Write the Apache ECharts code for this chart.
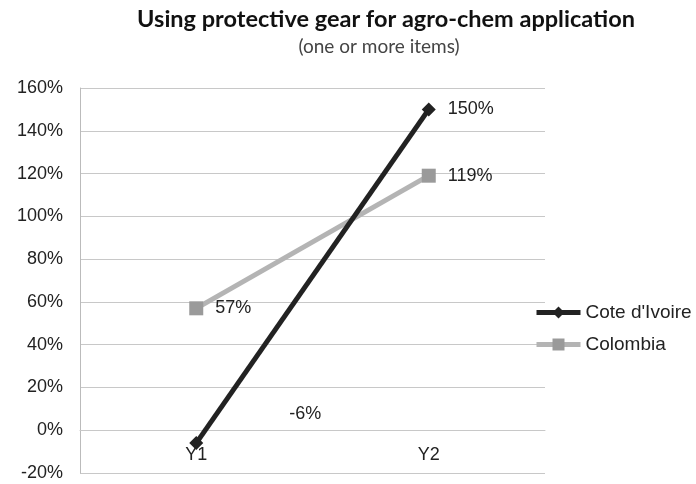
<!DOCTYPE html>
<html>
<head>
<meta charset="utf-8">
<script src="https://cdn.jsdelivr.net/npm/echarts@6/dist/echarts.min.js"></script>
<style>
  html, body { margin: 0; padding: 0; background: #fff; }
  #chart { width: 696px; height: 484px; }
</style>
</head>
<body>
<div id="chart"></div>
<script>
// Share of farmers using protective gear (one or more items), by survey year
var categories = ['Y1', 'Y2'];
var coteDIvoire = [-6, 150];
var colombia = [57, 119];
var yTicks = { min: -20, max: 160, step: 20 };

var chart = echarts.init(document.getElementById('chart'));
var FONT = 'Liberation Sans, Arial, sans-serif';

function pctLabel(extra) {
  return Object.assign({
    show: true,
    position: 'right',
    distance: 12,
    formatter: '{c}%',
    fontFamily: FONT,
    fontSize: 18,
    color: '#222'
  }, extra || {});
}

chart.setOption({
  animation: false,
  backgroundColor: '#fff',
  title: [
    {
      text: 'Using protective gear for agro-chem application',
      left: 381,
      textAlign: 'center',
      top: 2,
      textStyle: { fontFamily: 'Lato, sans-serif', fontWeight: 'bold', fontSize: 23.5, color: '#111' }
    },
    {
      text: '(one or more items)',
      left: 374,
      textAlign: 'center',
      top: 32,
      textStyle: { fontFamily: 'Lato, sans-serif', fontWeight: 'normal', fontSize: 19, color: '#444' }
    }
  ],
  grid: { left: 80, right: 151, top: 88, bottom: 11, containLabel: false, outerBoundsMode: 'none' },
  legend: {
    orient: 'vertical',
    left: 529,
    top: 298,
    itemWidth: 44,
    itemHeight: 15,
    itemGap: 13,
    lineStyle: { width: 5 },
    textStyle: { fontFamily: FONT, fontSize: 19, color: '#222' },
    data: ["Cote d'Ivoire", 'Colombia']
  },
  xAxis: {
    type: 'category',
    data: categories,
    boundaryGap: true,
    axisLine: { lineStyle: { color: '#c8c8c8', width: 1 } },
    axisTick: { show: false },
    // category names sit just under the 0% line
    axisLabel: { margin: -27, fontFamily: FONT, fontSize: 18, color: '#222' }
  },
  yAxis: {
    type: 'value',
    min: yTicks.min,
    max: yTicks.max,
    interval: yTicks.step,
    axisLine: { show: true, lineStyle: { color: '#bbb' } },
    axisTick: { show: false },
    splitLine: { lineStyle: { color: '#c8c8c8', width: 1 } },
    axisLabel: { margin: 17, fontFamily: FONT, fontSize: 18, color: '#222',
      formatter: function (v) { return v + '%'; } }
  },
  series: [
    {
      name: "Cote d'Ivoire",
      type: 'line',
      data: coteDIvoire,
      symbol: 'diamond',
      symbolSize: 14,
      z: 3,
      lineStyle: { color: '#222', width: 5 },
      itemStyle: { color: '#222' },
      label: pctLabel(),
      labelLayout: function (params) {
        // the Y1 value label sits up and to the right, inside the plot
        if (params.dataIndex === 0) {
          return { dx: 74, dy: -29 };
        }
        return {};
      }
    },
    {
      name: 'Colombia',
      type: 'line',
      data: colombia,
      symbol: 'rect',
      symbolSize: 14,
      z: 2,
      lineStyle: { color: '#b4b4b4', width: 5 },
      itemStyle: { color: '#9a9a9a' },
      label: pctLabel()
    }
  ]
});
</script>
</body>
</html>
